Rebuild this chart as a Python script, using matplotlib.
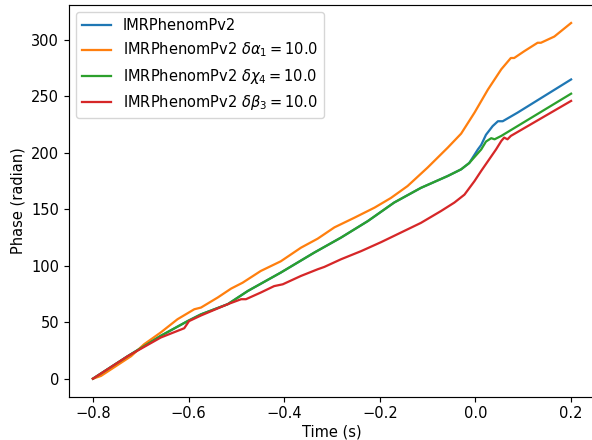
import matplotlib
matplotlib.use("Agg")
import matplotlib.pyplot as plt

labels = ["IMRPhenomPv2",
          r"IMRPhenomPv2 $\delta\alpha_1 = 10.0$",
          r"IMRPhenomPv2 $\delta\chi_4 = 10.0$",
          r"IMRPhenomPv2 $\delta\beta_3 = 10.0$"]

t_blue = [-0.8, -0.727, -0.658, -0.602, -0.574, -0.518, -0.476, -0.407, -0.337, -0.281,
          -0.225, -0.170, -0.114, -0.058, -0.030, -0.013, 0.005, 0.012, 0.022, 0.036,
          0.047, 0.057, 0.088, 0.2]
ph_blue = [0, 20, 38, 51, 57, 66, 77.7, 94, 111.7, 125,
           139.6, 156, 169, 179.5, 185.4, 191, 203, 207, 216, 223.7,
           228, 228, 235.6, 265]

t_orange = [-0.8, -0.783, -0.720, -0.693, -0.658, -0.623, -0.588, -0.574, -0.539, -0.511,
            -0.487, -0.449, -0.407, -0.365, -0.330, -0.295, -0.253, -0.211, -0.177, -0.142,
            -0.100, -0.058, -0.030, -0.002, 0.026, 0.054, 0.074, 0.081, 0.102, 0.130,
            0.137, 0.165, 0.200]
ph_orange = [0, 2.5, 20, 30.5, 41, 52.7, 61.5, 63, 71.9, 79.8,
             85, 95.4, 104, 116, 124, 134, 142.6, 151.5, 160, 170.6,
             187, 204.6, 217, 235.6, 256, 274, 284, 284, 290, 297.5,
             297.5, 303, 315]

t_green = [-0.8, -0.727, -0.658, -0.602, -0.574, -0.518, -0.476, -0.407, -0.337, -0.281,
           -0.225, -0.170, -0.114, -0.058, -0.030, -0.013, 0.012, 0.022, 0.033, 0.040,
           0.054, 0.2]
ph_green = [0, 20, 38, 51, 57, 66, 77.7, 94, 111.7, 125,
            139.6, 156, 169, 179.5, 185.4, 191, 203, 210, 213, 212,
            215, 252.4]

t_red = [-0.8, -0.727, -0.658, -0.609, -0.599, -0.574, -0.518, -0.490, -0.480, -0.449,
         -0.421, -0.403, -0.365, -0.330, -0.316, -0.281, -0.239, -0.197, -0.156, -0.114,
         -0.072, -0.044, -0.023, -0.002, 0.012, 0.043, 0.054, 0.060, 0.067, 0.074, 0.2]
ph_red = [0, 20, 36.5, 44.7, 51, 56, 66, 70.4, 70.4, 76.3,
          82, 83.6, 91, 96.9, 99, 105.8, 113, 121, 129.4, 138,
          148.5, 156, 163, 175, 184, 203, 210.5, 213.5, 212, 215, 246]

s = 1.05
plt.rcParams.update({
    "font.size": 10 * s,
    "axes.linewidth": 0.8 * s,
    "xtick.major.size": 3.5 * s,
    "ytick.major.size": 3.5 * s,
    "xtick.major.width": 0.8 * s,
    "ytick.major.width": 0.8 * s,
})

fig = plt.figure(figsize=(5.92, 4.40), dpi=100)
ax = fig.add_axes([69 / 592, 43.5 / 440, 526 / 592, 391.3 / 440])

lw = 1.5 * 1.08
ax.plot(t_blue, ph_blue, color="#1f77b4", lw=lw, label=labels[0])
ax.plot(t_orange, ph_orange, color="#ff7f0e", lw=lw, label=labels[1])
ax.plot(t_green, ph_green, color="#2ca02c", lw=lw, label=labels[2])
ax.plot(t_red, ph_red, color="#d62728", lw=lw, label=labels[3])

ax.set_xlabel("Time (s)", labelpad=2.5)
ax.set_ylabel("Phase (radian)")
ax.legend(loc="upper left")

fig.savefig("out.png", dpi=100)
